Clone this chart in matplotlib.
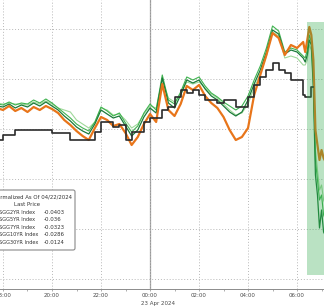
import pandas as pd
import numpy as np
import matplotlib
matplotlib.use("Agg")
import matplotlib.pyplot as plt
import matplotlib.dates as mdates
from matplotlib.patches import FancyBboxPatch, Rectangle

# time axis: 15 min bars overnight, 5 min bars around the release
times = pd.date_range("2024-04-22 17:45", "2024-04-23 06:15", freq="15min").append(
    pd.date_range("2024-04-23 06:20", "2024-04-23 07:10", freq="5min")
)

# normalized yield changes
sgg30 = [-0.0222, -0.0212, -0.0212, -0.0202, -0.0202, -0.0202, -0.0202, -0.0202, -0.0202, -0.0208,
         -0.0208, -0.0208, -0.0222, -0.0222, -0.0222, -0.0222, -0.0206, -0.0186, -0.0186, -0.0196,
         -0.0192, -0.0222, -0.0206, -0.0206, -0.0186, -0.0178, -0.0178, -0.0162, -0.0156, -0.0136,
         -0.0122, -0.0128, -0.0122, -0.0132, -0.0142, -0.0142, -0.0148, -0.0142, -0.0142, -0.0156,
         -0.0156, -0.0136, -0.0112, -0.0096, -0.0082, -0.0068, -0.0082, -0.0088, -0.0102, -0.0102,
         -0.0132,
         -0.0136, -0.0136, -0.0136, -0.0116, np.nan, np.nan, np.nan, np.nan, np.nan, np.nan, np.nan]

sgg10 = [-0.0158, -0.0162, -0.0154, -0.0164, -0.0158, -0.0166, -0.0156, -0.0162, -0.0154, -0.0160,
         -0.0168, -0.0182, -0.0192, -0.0204, -0.0214, -0.0222, -0.0198, -0.0176, -0.0182, -0.0194,
         -0.0190, -0.0208, -0.0232, -0.0216, -0.0190, -0.0170, -0.0186, -0.0110, -0.0162, -0.0174,
         -0.0150, -0.0114, -0.0122, -0.0112, -0.0134, -0.0148, -0.0158, -0.0176, -0.0202, -0.0222,
         -0.0216, -0.0198, -0.0132, -0.0092, -0.0052, -0.0008, -0.0018, -0.0052, -0.0032, -0.0038,
         -0.0026,
         -0.0046, -0.0022, 0.0004, -0.0012, -0.0062, -0.0202, -0.0232, -0.0262, -0.0242, -0.0258, -0.0266]

sgg2 = [-0.0154, -0.0156, -0.0150, -0.0158, -0.0152, -0.0156, -0.0148, -0.0154, -0.0146, -0.0154,
        -0.0162, -0.0174, -0.0184, -0.0196, -0.0204, -0.0210, -0.0190, -0.0162, -0.0170, -0.0178,
        -0.0174, -0.0194, -0.0214, -0.0202, -0.0176, -0.0158, -0.0168, -0.0098, -0.0148, -0.0158,
        -0.0132, -0.0102, -0.0108, -0.0102, -0.0120, -0.0134, -0.0142, -0.0154, -0.0166, -0.0174,
        -0.0166, -0.0142, -0.0110, -0.0082, -0.0046, -0.0002, -0.0010, -0.0050, -0.0042, -0.0046,
        -0.0058,
        -0.0066, -0.0052, -0.0022, -0.0032, -0.0122, -0.0292, -0.0332, -0.0398, -0.0362, -0.0406, -0.0414]

sgg5 = [-0.0150, -0.0152, -0.0146, -0.0152, -0.0148, -0.0150, -0.0142, -0.0148, -0.0140, -0.0148,
        -0.0158, -0.0168, -0.0178, -0.0190, -0.0198, -0.0204, -0.0186, -0.0156, -0.0164, -0.0174,
        -0.0168, -0.0188, -0.0206, -0.0194, -0.0168, -0.0150, -0.0162, -0.0092, -0.0142, -0.0150,
        -0.0126, -0.0096, -0.0102, -0.0096, -0.0114, -0.0128, -0.0136, -0.0146, -0.0154, -0.0162,
        -0.0154, -0.0134, -0.0102, -0.0074, -0.0038, 0.0006, -0.0004, -0.0046, -0.0038, -0.0042,
        -0.0054,
        -0.0058, -0.0042, -0.0012, -0.0026, -0.0092, -0.0262, -0.0302, -0.0342, -0.0332, -0.0372, -0.0382]

sgg7 = [-0.0148, -0.0150, -0.0148, -0.0150, -0.0150, -0.0152, -0.0146, -0.0150, -0.0144, -0.0150,
        -0.0158, -0.0162, -0.0166, -0.0182, -0.0190, -0.0198, -0.0186, -0.0158, -0.0162, -0.0172,
        -0.0170, -0.0182, -0.0198, -0.0190, -0.0170, -0.0154, -0.0158, -0.0102, -0.0138, -0.0146,
        -0.0130, -0.0106, -0.0110, -0.0106, -0.0118, -0.0130, -0.0138, -0.0150, -0.0162, -0.0172,
        -0.0168, -0.0150, -0.0118, -0.0090, -0.0054, -0.0006, -0.0014, -0.0058, -0.0054, -0.0058,
        -0.0072,
        -0.0072, -0.0062, -0.0032, -0.0042, -0.0102, -0.0242, -0.0282, -0.0322, -0.0312, -0.0342, -0.0352]

legend_names = ["SGG2YR Index", "SGG5YR Index", "SGG7YR Index", "SGG10YR Index", "SGG30YR Index"]
last_prices = [-0.0403, -0.036, -0.0323, -0.0286, -0.0124]

# highlighted window after the CPI print
shade_start = pd.Timestamp("2024-04-23 06:24")
shade_end = pd.Timestamp("2024-04-23 07:30")
shade_top = 0.0014
shade_bottom = -0.0492

W, H = 324, 306
fig = plt.figure(figsize=(W / 100, H / 100), dpi=100)
ax = fig.add_axes([0, 17 / H, 1, 1 - 17 / H])

ax.set_xlim(pd.Timestamp("2024-04-22 17:52:40"), pd.Timestamp("2024-04-23 07:06"))
ax.set_ylim(-0.052, 0.0058)

# gridlines
ax.set_yticks([-0.05, -0.04, -0.03, -0.02, -0.01, 0.0])
ax.yaxis.set_ticklabels([])
ax.tick_params(axis="y", length=0)
ax.xaxis.set_major_locator(mdates.HourLocator(byhour=range(0, 24, 2)))
ax.xaxis.set_minor_locator(mdates.HourLocator())
ax.xaxis.set_major_formatter(mdates.DateFormatter("%H:%M"))
ax.grid(True, which="major", color="#b8b8b8", linestyle=(0, (1, 2)), linewidth=0.7)
ax.axvline(pd.Timestamp("2024-04-23 00:00"), color="#9a9a9a", linewidth=0.9, zorder=1)

ax.plot(times, sgg7, color="#9fd89a", linewidth=0.8, zorder=3)
ax.plot(times, sgg5, color="#3fb34f", linewidth=0.8, zorder=3)
ax.plot(times, sgg2, color="#1b7a3a", linewidth=0.9, zorder=3)
ax.plot(times, sgg10, color="#e8751a", linewidth=1.6, zorder=4)
ax.plot(times, sgg30, color="#2b2b2b", linewidth=1.2, drawstyle="steps-post", zorder=5)

ax.add_patch(Rectangle((mdates.date2num(shade_start), shade_bottom),
                       mdates.date2num(shade_end) - mdates.date2num(shade_start),
                       shade_top - shade_bottom,
                       facecolor="#2ea84a", alpha=0.33, edgecolor="none", zorder=6))

for s in ["left", "right", "top"]:
    ax.spines[s].set_visible(False)
ax.spines["bottom"].set_color("#8c8c8c")
ax.spines["bottom"].set_linewidth(0.7)
ax.tick_params(axis="x", which="both", length=1.5, width=0.5, color="#8c8c8c",
               labelsize=4, labelcolor="#4a4a4a", pad=1.2)


def px(x, y):
    return x / W, 1 - y / H


fig.text(*px(141, 303), "23 Apr 2024", fontsize=4, color="#4a4a4a", ha="left", va="center")

# legend box
x0, y0 = px(-6, 250)
x1, y1 = px(75, 190)
box = FancyBboxPatch((x0, y0), x1 - x0, y1 - y0, boxstyle="round,pad=0,rounding_size=0.006",
                     transform=fig.transFigure, facecolor="white", edgecolor="#8a8a8a",
                     linewidth=0.8, zorder=10)
fig.patches.append(box)
fig.text(*px(72, 197), "Normalized As Of 04/22/2024", fontsize=3.9, color="#333333",
         ha="right", va="center", zorder=11)
fig.text(*px(27, 205), "Last Price", fontsize=3.9, color="#333333",
         ha="center", va="center", zorder=11)
for i, (name, val) in enumerate(zip(legend_names, last_prices)):
    yy = 212 + i * 7.6
    fig.text(*px(-1, yy), name, fontsize=3.6, color="#333333", ha="left", va="center", zorder=11)
    fig.text(*px(44, yy), f"{val:g}", fontsize=3.9, color="#333333", ha="left", va="center", zorder=11)

fig.savefig("out.png", dpi=100)
